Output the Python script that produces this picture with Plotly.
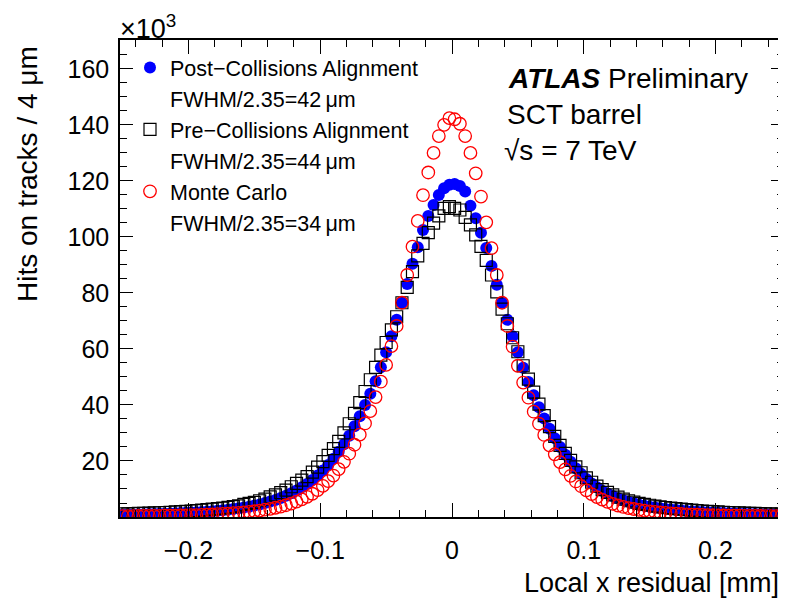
import plotly.graph_objects as go

# ---------------- data (hits per 4 um bin, in units of 10^3) ----------------
BIN_WIDTH_MM = 0.004
N_BINS = 126
X_LOW_MM = -0.252
bin_centers = [round(X_LOW_MM + BIN_WIDTH_MM * (i + 0.5), 3) for i in range(N_BINS)]

post_collisions = [
    # -0.250 ... -0.002
    0.83, 0.86, 0.9, 0.94, 0.98, 1.03, 1.08, 1.14, 1.2, 1.26,
    1.33, 1.4, 1.5, 1.6, 1.7, 1.8, 1.9, 2.05, 2.2, 2.4,
    2.6, 2.85, 3.1, 3.4, 3.7, 4.1, 4.5, 5.0, 5.5, 6.1,
    6.8, 7.6, 8.5, 9.5, 10.6, 11.8, 13.2, 14.8, 16.6, 18.6,
    20.8, 23.3, 26.0, 29.0, 32.4, 36.0, 40.0, 44.0, 48.5, 53.5,
    58.8, 64.5, 70.4, 76.5, 83.2, 90.4, 96.3, 102.5, 107.5, 111.4,
    115.0, 117.4, 118.6,
    # +0.002 ... +0.250
    118.9, 118.2, 116.2, 111.1, 106.7, 101.5, 96.0, 89.6, 82.9, 76.5,
    70.4, 64.5, 58.8, 53.3, 48.2, 43.5, 39.2, 35.2, 31.5, 28.1,
    25.0, 22.2, 19.7, 17.4, 15.4, 13.6, 12.0, 10.6, 9.4, 8.4,
    7.5, 6.7, 6.0, 5.4, 4.9, 4.4, 4.0, 3.7, 3.4, 3.1,
    2.9, 2.7, 2.5, 2.3, 2.15, 2.0, 1.9, 1.8, 1.7, 1.6,
    1.5, 1.4, 1.35, 1.3, 1.2, 1.15, 1.1, 1.05, 1.0, 0.95,
    0.9, 0.88, 0.85,
]

pre_collisions = [
    # -0.250 ... -0.002
    1.1, 1.15, 1.2, 1.26, 1.32, 1.38, 1.45, 1.52, 1.6, 1.7,
    1.8, 1.9, 2.0, 2.15, 2.3, 2.45, 2.6, 2.8, 3.0, 3.2,
    3.45, 3.7, 4.0, 4.5, 4.9, 5.2, 5.8, 6.4, 7.2, 7.9,
    8.7, 9.6, 10.8, 12.0, 13.2, 14.4, 16.0, 17.8, 19.8, 22.0,
    24.4, 27.0, 30.0, 33.3, 37.0, 40.8, 44.8, 49.0, 53.4, 57.8,
    62.3, 66.8, 71.5, 76.5, 82.0, 87.6, 93.2, 97.7, 101.5, 104.9,
    107.5, 110.2, 110.8,
    # +0.002 ... +0.250
    110.2, 109.6, 107.0, 104.3, 100.7, 96.6, 91.6, 86.4, 80.4, 74.2,
    69.0, 64.0, 59.0, 54.0, 49.2, 44.6, 40.3, 36.2, 32.3, 28.8,
    25.6, 22.7, 20.2, 17.9, 15.8, 14.0, 12.4, 11.0, 9.8, 8.8,
    7.9, 7.1, 6.4, 5.8, 5.3, 4.9, 4.5, 4.2, 3.9, 3.6,
    3.4, 3.2, 3.0, 2.8, 2.6, 2.45, 2.3, 2.15, 2.0, 1.9,
    1.8, 1.7, 1.6, 1.52, 1.45, 1.38, 1.32, 1.26, 1.2, 1.15,
    1.1, 1.05, 1.0,
]

monte_carlo = [
    # -0.250 ... -0.002
    0.3, 0.32, 0.33, 0.35, 0.37, 0.39, 0.41, 0.43, 0.46, 0.49,
    0.52, 0.55, 0.6, 0.64, 0.7, 0.75, 0.82, 0.9, 1.0, 1.1,
    1.2, 1.35, 1.5, 1.65, 1.85, 2.05, 2.3, 2.6, 2.9, 3.3,
    3.7, 4.2, 4.8, 5.5, 6.3, 7.2, 8.3, 9.6, 11.1, 12.8,
    14.8, 17.1, 19.7, 22.6, 25.8, 29.4, 33.4, 37.8, 42.8, 48.3,
    54.3, 61.0, 68.2, 76.5, 86.4, 96.5, 105.7, 114.9, 123.0, 130.0,
    136.0, 140.0, 142.4,
    # +0.002 ... +0.250
    142.0, 140.4, 136.0, 130.0, 122.7, 114.4, 105.2, 96.0, 86.4, 76.5,
    68.2, 60.8, 54.0, 48.0, 42.6, 37.6, 33.3, 29.3, 25.6, 22.4,
    19.6, 17.0, 14.7, 12.7, 11.0, 9.5, 8.2, 7.1, 6.2, 5.4,
    4.7, 4.1, 3.6, 3.2, 2.85, 2.55, 2.25, 2.0, 1.8, 1.6,
    1.45, 1.3, 1.18, 1.07, 0.97, 0.88, 0.8, 0.73, 0.67, 0.62,
    0.57, 0.53, 0.5, 0.47, 0.44, 0.42, 0.4, 0.38, 0.36, 0.34,
    0.33, 0.31, 0.3,
]

series_names = ["Post\u2212Collisions Alignment", "Pre\u2212Collisions Alignment", "Monte Carlo"]
fwhm_labels = ["FWHM/2.35=42\u2009\u03bcm", "FWHM/2.35=44\u2009\u03bcm", "FWHM/2.35=34\u2009\u03bcm"]

y_tick_values = [20, 40, 60, 80, 100, 120, 140, 160]
x_tick_values = [-0.2, -0.1, 0, 0.1, 0.2]
x_tick_text = ["\u22120.2", "\u22120.1", "0", "0.1", "0.2"]

assert len(post_collisions) == N_BINS
assert len(pre_collisions) == N_BINS
assert len(monte_carlo) == N_BINS

# ---------------- figure ----------------
FONT = "Liberation Sans, Arial, Helvetica, sans-serif"

fig = go.Figure()

styles = [
    dict(symbol="circle", size=12, color="#0000ff", line=dict(width=0, color="#0000ff")),
    dict(symbol="square-open", size=12, color="#000000", line=dict(width=1.2, color="#000000")),
    dict(symbol="circle-open", size=12.5, color="#ff0000", line=dict(width=1.3, color="#ff0000")),
]
values = [post_collisions, pre_collisions, monte_carlo]

for name, fwhm, vals, st in zip(series_names, fwhm_labels, values, styles):
    fig.add_trace(go.Scatter(
        x=bin_centers, y=vals, mode="markers", name=name,
        marker=st, showlegend=True,
    ))
    # second legend line (FWHM) as a legend entry without a symbol
    fig.add_trace(go.Scatter(
        x=[None], y=[None], mode="markers", name=fwhm,
        marker=dict(size=1, color="rgba(0,0,0,0)"), showlegend=True,
        hoverinfo="skip",
    ))

axis_common = dict(
    showline=True, linecolor="black", linewidth=1.5, mirror="allticks",
    ticks="inside", tickcolor="black", tickwidth=1.2,
    showgrid=False, zeroline=False, automargin=False,
    tickfont=dict(family=FONT, size=25, color="black"),
)

fig.update_xaxes(
    range=[X_LOW_MM, -X_LOW_MM], tickvals=x_tick_values, ticktext=x_tick_text,
    ticklen=14, ticklabelstandoff=10,
    minor=dict(dtick=0.02, tick0=0, ticklen=7, ticks="inside", tickcolor="black", tickwidth=1.2),
    **axis_common,
)
fig.update_yaxes(
    range=[0, 170.3], tickvals=y_tick_values,
    ticklen=13, ticklabelstandoff=4,
    minor=dict(dtick=5, tick0=0, ticklen=7, ticks="inside", tickcolor="black", tickwidth=1.2),
    **axis_common,
)

# plot frame in page pixels: x 120..784, y 40..517 (page has an 8px body margin)
PLOT_W, PLOT_H = 664, 477
PLOT_L, PLOT_T = 120, 40


def px_x(x):
    return (x - PLOT_L) / PLOT_W


def px_y(y):
    return 1 - (y - PLOT_T) / PLOT_H


annotations = [
    dict(text="Local x residual [mm]", xref="paper", yref="paper", x=px_x(781), y=px_y(583),
         xanchor="right", yanchor="middle", showarrow=False,
         font=dict(family=FONT, size=27, color="black")),
    dict(text="Hits on tracks / 4 \u03bcm", xref="paper", yref="paper", x=px_x(27), y=px_y(44),
         xanchor="center", yanchor="top", textangle=-90, showarrow=False,
         font=dict(family=FONT, size=28, color="black")),
    dict(text="\u00d710<sup>3</sup>", xref="paper", yref="paper", x=px_x(118), y=px_y(27),
         xanchor="left", yanchor="middle", showarrow=False,
         font=dict(family=FONT, size=27, color="black")),
    dict(text="<b><i>ATLAS</i></b> Preliminary", xref="paper", yref="paper",
         x=px_x(506), y=px_y(78), xanchor="left", yanchor="middle",
         showarrow=False, font=dict(family=FONT, size=28, color="black")),
    dict(text="SCT barrel", xref="paper", yref="paper",
         x=px_x(505), y=px_y(114), xanchor="left", yanchor="middle",
         showarrow=False, font=dict(family=FONT, size=28, color="black")),
    dict(text="\u221as = 7 TeV", xref="paper", yref="paper",
         x=px_x(502), y=px_y(150), xanchor="left", yanchor="middle",
         showarrow=False, font=dict(family=FONT, size=28, color="black")),
]

BODY_MARGIN = 8
fig.update_layout(
    width=786 - BODY_MARGIN, height=599 - BODY_MARGIN,
    margin=dict(l=PLOT_L - BODY_MARGIN, r=2, t=PLOT_T - BODY_MARGIN, b=82, pad=0),
    paper_bgcolor="white", plot_bgcolor="white",
    font=dict(family=FONT, color="black"),
    showlegend=True,
    legend=dict(x=px_x(130), y=px_y(47), xanchor="left", yanchor="top",
                bgcolor="rgba(0,0,0,0)", borderwidth=0,
                font=dict(family=FONT, size=21.5, color="black"),
                itemwidth=30, tracegroupgap=0, traceorder="normal"),
    annotations=annotations,
)

fig.write_html("out.html")
